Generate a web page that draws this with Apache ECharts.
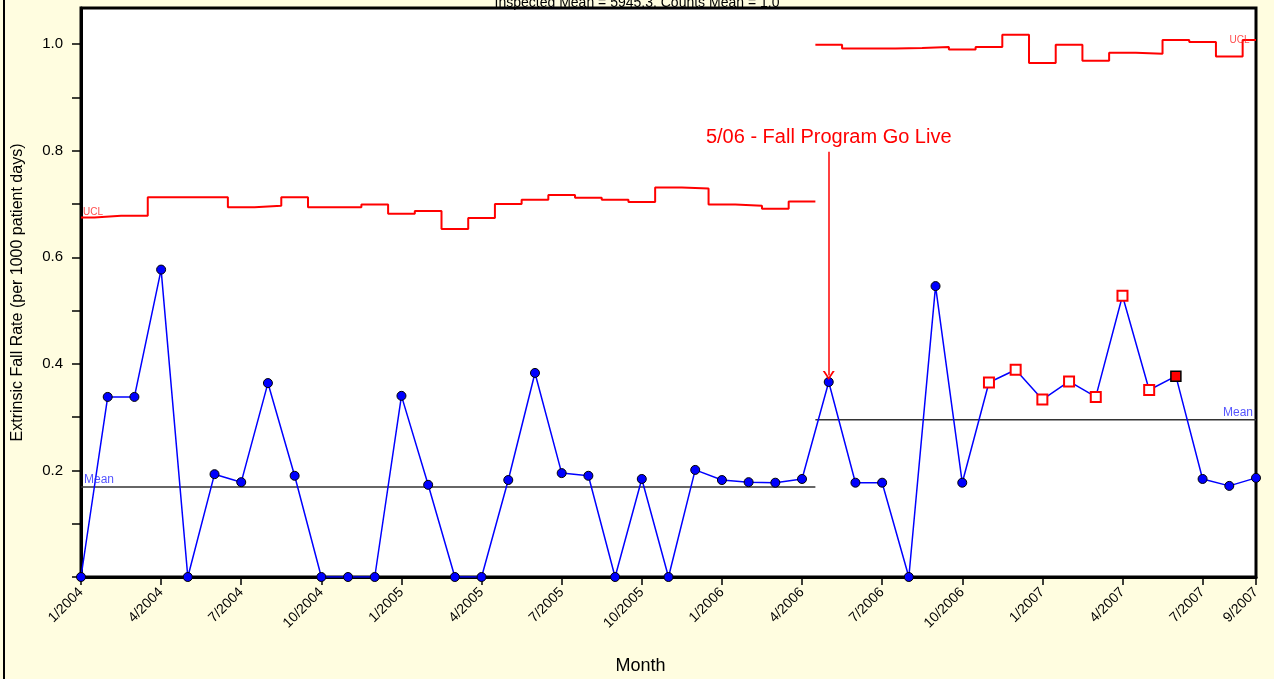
<!DOCTYPE html>
<html>
<head>
<meta charset="utf-8">
<script src="https://cdn.jsdelivr.net/npm/echarts@6/dist/echarts.min.js"></script>
<style>
  html, body { margin: 0; padding: 0; background: #fffde0; }
  #chart { position: absolute; left: 0; top: 0; width: 1274px; height: 679px; }
  #edge { position: absolute; left: 3px; top: 0; width: 2px; height: 679px; background: #000; }
</style>
</head>
<body>
<div id="chart"></div>
<div id="edge"></div>
<script>
// month index 0 = 1/2004 ... 44 = 9/2007
var startYear = 2004;
var fallRate = [
  0, 0.338, 0.338, 0.577, 0, 0.193, 0.178, 0.364, 0.190, 0, 0, 0,
  0.340, 0.173, 0, 0, 0.182, 0.383, 0.195, 0.190, 0, 0.184, 0, 0.201,
  0.182, 0.178, 0.177, 0.184, 0.366, 0.177, 0.177, 0, 0.546, 0.177, 0.365, 0.389,
  0.333, 0.367, 0.338, 0.528, 0.351, 0.377, 0.184, 0.171, 0.186
];
var ucl = [
  0.675, 0.678, 0.678, 0.713, 0.713, 0.713, 0.694, 0.697, 0.713, 0.694, 0.694, 0.699,
  0.682, 0.687, 0.653, 0.674, 0.700, 0.708, 0.717, 0.712, 0.708, 0.704, 0.731, 0.729,
  0.699, 0.697, 0.691, 0.705, 0.999, 0.992, 0.992, 0.993, 0.995, 0.990, 0.995, 1.018,
  0.965, 0.999, 0.969, 0.984, 0.982, 1.008, 1.004, 0.977, 1.008
];
var phaseSplit = 27.5;          // go-live between 4/2006 and 5/2006
var phaseMean = [0.169, 0.295];
var runFlagged = [34, 35, 36, 37, 38, 39, 40];
var sigmaFlagged = [41];
var goLiveMonth = 28;
var goLiveText = '5/06 - Fall Program Go Live';
var yTicks = [0, 0.1, 0.2, 0.3, 0.4, 0.5, 0.6, 0.7, 0.8, 0.9, 1.0];
var yLabels = [0.2, 0.4, 0.6, 0.8, 1.0];
var lastMonth = fallRate.length - 1;

function monthLabel(i) {
  i = Math.round(i);
  return (i % 12 + 1) + '/' + (startYear + Math.floor(i / 12));
}

// UCL drawn as steps that change half way between months
function uclSteps(from, to, lo, hi) {
  var pts = [];
  for (var i = from; i <= to; i++) {
    pts.push([Math.max(i - 0.5, lo), ucl[i]]);
    pts.push([Math.min(i + 0.5, hi), ucl[i]]);
  }
  return pts;
}

var rateData = fallRate.map(function (v, i) {
  var item = { value: [i, v] };
  if (runFlagged.indexOf(i) >= 0) {
    item.symbol = 'rect';
    item.symbolSize = 10;
    item.itemStyle = { color: '#fff', borderColor: '#ff0000', borderWidth: 2 };
  } else if (sigmaFlagged.indexOf(i) >= 0) {
    item.symbol = 'rect';
    item.symbolSize = 10;
    item.itemStyle = { color: '#ff0000', borderColor: '#000', borderWidth: 1.5 };
  }
  return item;
});

var chart = echarts.init(document.getElementById('chart'));
var font = 'Liberation Sans, Arial, Helvetica, sans-serif';

var option = {
  animation: false,
  backgroundColor: 'transparent',
  textStyle: { fontFamily: font },
  title: {
    text: 'Inspected Mean = 5945.3, Counts Mean = 1.0',
    left: 'center',
    top: -9,
    textStyle: { fontSize: 14, fontWeight: 'normal', color: '#000', fontFamily: font }
  },
  grid: {
    left: 81, right: 18, top: 8, bottom: 102,
    outerBoundsMode: 'none',
    containLabel: false,
    show: true, backgroundColor: '#fff', borderColor: '#000', borderWidth: 3
  },
  xAxis: {
    type: 'value',
    min: 0, max: lastMonth, interval: 3,
    name: 'Month',
    nameLocation: 'middle',
    nameGap: 80,
    nameTextStyle: { fontSize: 18, color: '#000', padding: [0, 56, 0, 0] },
    axisLine: { lineStyle: { color: '#000', width: 3 } },
    axisTick: { length: 8, lineStyle: { color: '#000', width: 1.5 } },
    axisLabel: { rotate: 45, margin: 13, fontSize: 14, color: '#000', formatter: monthLabel },
    splitLine: { show: false }
  },
  yAxis: {
    type: 'value',
    min: 0, max: 1.068,
    name: 'Extrinsic Fall Rate (per 1000 patient days)',
    nameLocation: 'middle',
    nameGap: 55,
    nameTextStyle: { fontSize: 16, color: '#000' },
    axisLine: { lineStyle: { color: '#000', width: 3 } },
    axisTick: { length: 9, customValues: yTicks, lineStyle: { color: '#000', width: 1.5 } },
    axisLabel: {
      margin: 18, fontSize: 15, color: '#000', customValues: yLabels,
      formatter: function (v) { return v.toFixed(1); }
    },
    splitLine: { show: false }
  },
  series: [
    {
      name: 'UCL 1', type: 'line', data: uclSteps(0, goLiveMonth - 1, 0, phaseSplit),
      symbol: 'none', silent: true,
      lineStyle: { color: '#ff0000', width: 2 }
    },
    {
      name: 'UCL 2', type: 'line', data: uclSteps(goLiveMonth, lastMonth, phaseSplit, lastMonth),
      symbol: 'none', silent: true,
      lineStyle: { color: '#ff0000', width: 2 }
    },
    {
      name: 'Mean 1', type: 'line', data: [[0, phaseMean[0]], [phaseSplit, phaseMean[0]]],
      symbol: 'none', silent: true,
      lineStyle: { color: '#333', width: 1.5 }
    },
    {
      name: 'Mean 2', type: 'line', data: [[phaseSplit, phaseMean[1]], [lastMonth, phaseMean[1]]],
      symbol: 'none', silent: true,
      lineStyle: { color: '#333', width: 1.5 }
    },
    {
      name: 'Fall Rate', type: 'line', data: rateData, z: 5,
      symbol: 'circle', symbolSize: 9,
      itemStyle: { color: '#0000ff', borderColor: '#000', borderWidth: 1 },
      lineStyle: { color: '#0000ff', width: 1.5 },
      emphasis: { disabled: true },
      markLine: {
        silent: true,
        z: 10,
        symbol: ['none', 'path://M0,10 L5,0 L10,10 L8.2,10 L5,3.5 L1.8,10 Z'],
        symbolSize: [12, 9],
        lineStyle: { color: '#ff0000', width: 1.5, type: 'solid' },
        label: {
          show: true, position: 'start', distance: 4,
          formatter: goLiveText, color: '#ff0000', fontSize: 20
        },
        data: [[{ coord: [goLiveMonth, 0.798] }, { coord: [goLiveMonth, fallRate[goLiveMonth] + 0.012] }]]
      }
    },
    {
      name: 'Labels', type: 'scatter', symbolSize: 1, silent: true, z: 6,
      itemStyle: { color: 'rgba(0,0,0,0)' },
      data: [
        { value: [0, ucl[0]], label: { show: true, formatter: 'UCL', position: 'top', align: 'left', distance: 0, offset: [2, 0], color: '#ff2020', fontSize: 10 } },
        { value: [lastMonth, ucl[lastMonth]], label: { show: true, formatter: 'UCL', position: 'left', distance: 6, color: '#ff2020', fontSize: 10 } },
        { value: [0, phaseMean[0]], label: { show: true, formatter: 'Mean', position: 'top', align: 'left', distance: 1, offset: [3, 0], color: '#2a2aff', fontSize: 12 } },
        { value: [lastMonth, phaseMean[1]], label: { show: true, formatter: 'Mean', position: 'top', align: 'right', distance: 1, offset: [-3, 0], color: '#2a2aff', fontSize: 12 } }
      ]
    }
  ]
};

chart.setOption(option);
</script>
</body>
</html>
